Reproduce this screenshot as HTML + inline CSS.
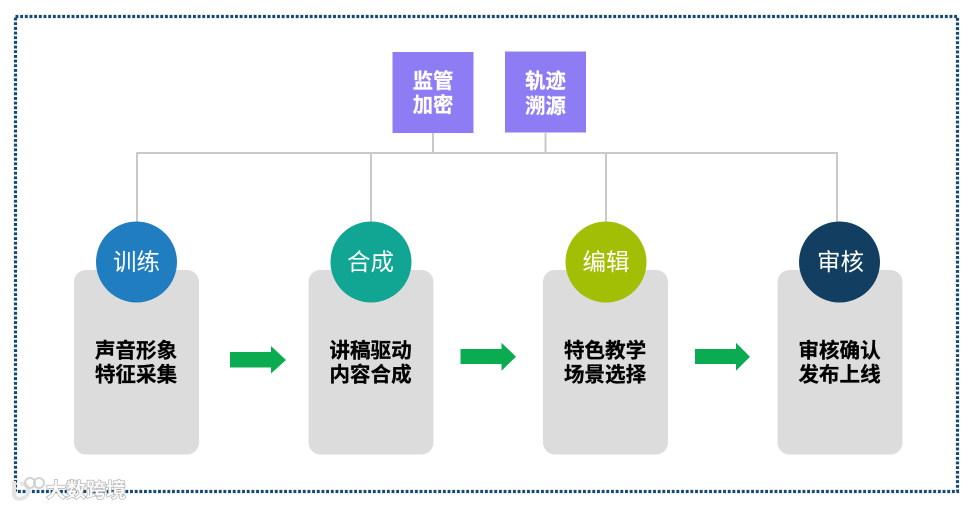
<!DOCTYPE html>
<html lang="zh">
<head>
<meta charset="utf-8">
<title>流程图</title>
<style>
html,body{margin:0;padding:0;background:#fff;width:973px;height:507px;overflow:hidden}
svg{display:block;font-family:"Liberation Sans","Noto Sans CJK SC",sans-serif;filter:blur(.35px)}
.b{font-size:20.6px;font-weight:700;text-anchor:middle;fill:#000;stroke:#000;stroke-width:.25px}
.p{font-size:20.4px;font-weight:700;text-anchor:middle;fill:#fff;stroke:#fff;stroke-width:.25px}
.c{font-size:23.5px;font-weight:400;text-anchor:middle;fill:#fff}
</style>
</head>
<body>
<svg width="973" height="507" viewBox="0 0 973 507" xmlns="http://www.w3.org/2000/svg">
<rect x="15.5" y="16.5" width="942" height="475" fill="none" stroke="#134a75" stroke-width="3.2" stroke-dasharray="2.9 1.77"/>
<g stroke="#c9c9c9" stroke-width="2" fill="none">
<path d="M137 222V153H837V222"/>
<path d="M371 153V222M606 153V222M433 133V153M545.500 133V153"/>
</g>
<rect x="392.500" y="52" width="81" height="81" fill="#8e7cf5"/>
<rect x="505" y="51.500" width="81" height="81" fill="#8e7cf5"/>
<text class="p" x="433" y="88">监管</text>
<text class="p" x="433" y="112">加密</text>
<text class="p" x="545.500" y="88">轨迹</text>
<text class="p" x="545.500" y="113">溯源</text>
<g fill="#dcdcdc">
<rect x="74" y="270" width="125" height="184.500" rx="12"/>
<rect x="308.500" y="270" width="125" height="184.500" rx="12"/>
<rect x="543" y="270" width="125" height="184.500" rx="12"/>
<rect x="777.500" y="270" width="125" height="184.500" rx="12"/>
</g>
<circle cx="136.500" cy="262" r="40.500" fill="#1f7dc0"/>
<circle cx="371" cy="262" r="40.500" fill="#10a693"/>
<circle cx="606" cy="262" r="40.500" fill="#a2bf05"/>
<circle cx="839.500" cy="262" r="40.500" fill="#123f61"/>
<text class="c" x="136.500" y="270">训练</text>
<text class="c" x="370.500" y="270">合成</text>
<text class="c" x="606" y="270">编辑</text>
<text class="c" x="840.500" y="270">审核</text>
<text class="b" x="136" y="357.500">声音形象</text>
<text class="b" x="136" y="381.500">特征采集</text>
<text class="b" x="370.500" y="357.500">讲稿驱动</text>
<text class="b" x="370.500" y="381.500">内容合成</text>
<text class="b" x="605" y="357.500">特色教学</text>
<text class="b" x="605" y="381.500">场景选择</text>
<text class="b" x="839.500" y="357.500">审核确认</text>
<text class="b" x="839.500" y="381.500">发布上线</text>
<g fill="#0bac51">
<path d="M230 352H271V346L286 360L271 373.500V367.500H230Z"/>
<path d="M460.500 349H501.500V342.700L516 356.700L501.500 370.700V364H460.500Z"/>
<path d="M695 349H736V342.700L750 356.700L736 370.700V364H695Z"/>
</g>
<g>
<text x="46" y="497" font-size="20" font-weight="700" fill="#fafafa" stroke="#a8a8a8" stroke-width="1.200" paint-order="stroke">大数跨境</text>
<path d="M14 481V493C14 500 21 500 27 496M20 484C27 482 30 489 27 496" fill="none" stroke="#e4e4e4" stroke-width="4"/>
<circle cx="30" cy="483" r="5" fill="none" stroke="#d2d2d2" stroke-width="2"/>
<circle cx="39" cy="483" r="5" fill="none" stroke="#d2d2d2" stroke-width="2"/>
</g>
</svg>
</body>
</html>
